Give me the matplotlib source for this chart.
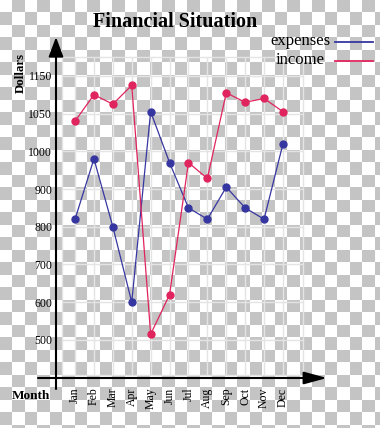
import numpy as np
import matplotlib
matplotlib.use("Agg")
import matplotlib.pyplot as plt
from matplotlib.lines import Line2D
from matplotlib.patches import FancyArrowPatch

W, H = 380, 428

months = ["Jan", "Feb", "Mar", "Apr", "May", "Jun",
          "Jul", "Aug", "Sep", "Oct", "Nov", "Dec"]
expenses = [820, 980, 800, 600, 1055, 970, 850, 820, 905, 850, 820, 1010]
income = [1040, 1100, 1075, 1125, 515, 620, 970, 928, 1105, 1080, 1090, 1055]
ytick_vals = [500, 600, 700, 800, 900, 1000, 1050, 1150]

BLUE = "#3636a0"
PINK = "#e0245e"
SERIF = ["Liberation Serif", "DejaVu Serif"]

# the axis labels are evenly spaced although the steps are not
tv = np.array(ytick_vals, float)
ti = np.arange(len(tv), dtype=float)


def fwd(v):
    v = np.asarray(v, float)
    out = np.interp(v, tv, ti)
    out = np.where(v < tv[0], (v - tv[0]) / 100.0, out)
    out = np.where(v > tv[-1], ti[-1] + (v - tv[-1]) / 100.0, out)
    return out


def inv(i):
    i = np.asarray(i, float)
    out = np.interp(i, ti, tv)
    out = np.where(i < 0, tv[0] + i * 100.0, out)
    out = np.where(i > ti[-1], tv[-1] + (i - ti[-1]) * 100.0, out)
    return out


def fig_box(left, top, right, bottom):
    return [left / W, 1 - bottom / H, (right - left) / W, (bottom - top) / H]


fig = plt.figure(figsize=(W / 100, H / 100), dpi=100)

# checkerboard backdrop (transparent-look)
bg = fig.add_axes([0, 0, 1, 1])
sq = 12.5
nr, nc = int(np.ceil(H / sq)), int(np.ceil(W / sq))
checker = (np.add.outer(np.arange(nr), np.arange(nc)) % 2).astype(float)
bg.imshow(checker, cmap=matplotlib.colors.ListedColormap(["#ffffff", "#c4c4c4"]),
          extent=[0, nc * sq, nr * sq, 0], interpolation="nearest", aspect="auto")
bg.set_xlim(0, W)
bg.set_ylim(H, 0)
bg.axis("off")

ax = fig.add_axes(fig_box(62, 57, 303, 375))
ax.patch.set_alpha(0)
ax.set_yscale("function", functions=(fwd, inv))
x = np.arange(len(months))
ax.plot(x, expenses, color=BLUE, lw=0.9, marker="o", ms=5, zorder=3)
ax.plot(x, income, color=PINK, lw=0.9, marker="o", ms=5, zorder=3)

ax.set_xlim(-0.69, 11.06 + 1)
ax.set_ylim(inv(-0.93), inv(7.5))
ax.set_yticks(ytick_vals)
ax.set_yticklabels([str(v) for v in ytick_vals], fontfamily=SERIF, fontsize=8.5)
ax.set_xticks(x)
ax.set_xticklabels(months, rotation=90, fontfamily=SERIF, fontsize=8.5,
                   va="top", ha="center")
ax.tick_params(axis="y", length=0, pad=7)
ax.tick_params(axis="x", length=0, pad=9)
ax.grid(True, color="#e4e4e4", lw=1.0, zorder=0)
for s in ax.spines.values():
    s.set_color("#e4e4e4")
    s.set_linewidth(1.0)

# axis arrows
for (x0, y0), (x1, y1), hl, hw in [((56, 389), (56, 37), 12, 4.5),
                                   ((38, 378), (327, 378), 14, 3.8)]:
    fig.add_artist(FancyArrowPatch((x0 / W, 1 - y0 / H), (x1 / W, 1 - y1 / H),
                                   transform=fig.transFigure,
                                   arrowstyle=f"-|>,head_length={hl},head_width={hw}",
                                   mutation_scale=1, color="black", lw=1.5,
                                   shrinkA=0, shrinkB=0))

fig.text(175 / W, 1 - 22 / H, "Financial Situation", ha="center", va="center",
         fontfamily=SERIF, fontweight="bold", fontsize=14.5)
fig.text(21 / W, 1 - 73 / H, "Dollars", ha="center", va="center", rotation=90,
         fontfamily=SERIF, fontweight="bold", fontsize=9.3)
fig.text(31 / W, 1 - 396 / H, "Month", ha="center", va="center",
         fontfamily=SERIF, fontweight="bold", fontsize=9.5)

# legend
for label, color, ty in [("expenses", BLUE, 41), ("income", PINK, 60)]:
    fig.text(300 / W, 1 - ty / H, label, ha="center", va="center",
             fontfamily=SERIF, fontsize=12)
    fig.add_artist(Line2D([335 / W, 373 / W], [1 - (ty + 1) / H, 1 - (ty + 1) / H],
                          transform=fig.transFigure, color=color, lw=1.3))

fig.savefig("out.png", dpi=100)
